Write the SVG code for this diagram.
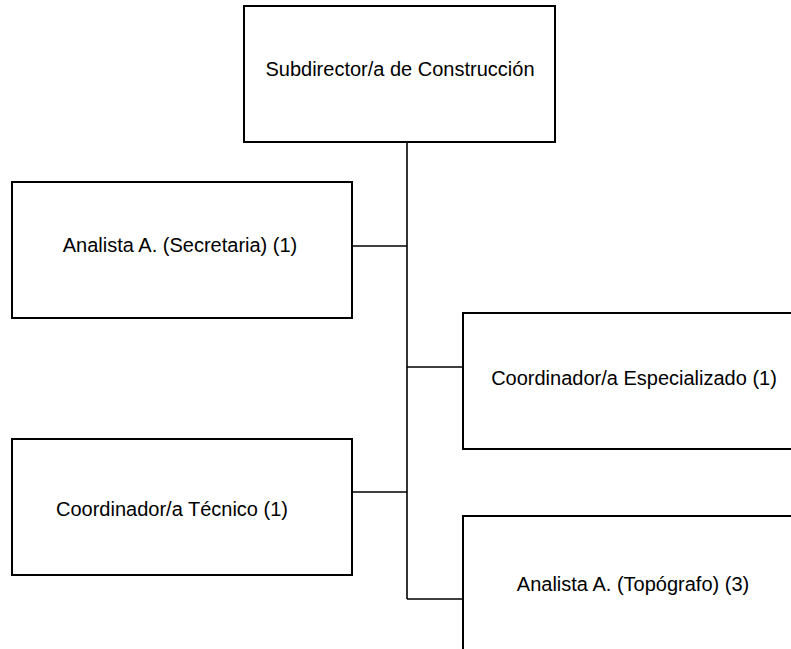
<svg xmlns="http://www.w3.org/2000/svg" width="791" height="649" viewBox="0 0 791 649">
<style>
.box{fill:#fff;stroke:#000;stroke-width:2}
.lbl{font-family:"Liberation Sans",Arial,sans-serif;font-size:20px;fill:#000;text-anchor:middle}
.conn{stroke:#000;stroke-width:1.6;fill:none}
</style>
<rect width="791" height="649" fill="#fff"/>
<g id="connectors">
<line class="conn" x1="407" y1="143" x2="407" y2="599"/>
<line class="conn" x1="352" y1="246" x2="407" y2="246"/>
<line class="conn" x1="407" y1="367" x2="463" y2="367"/>
<line class="conn" x1="352" y1="492" x2="407" y2="492"/>
<line class="conn" x1="407" y1="599" x2="463" y2="599"/>
</g>
<g id="subdirector">
<rect class="box" x="244" y="6" width="311" height="136"/>
<text class="lbl" x="400" y="76">Subdirector/a de Construcción</text>
</g>
<g id="secretaria">
<rect class="box" x="12" y="182" width="340" height="136"/>
<text class="lbl" x="180" y="252">Analista A. (Secretaria) (1)</text>
</g>
<g id="especializado">
<rect class="box" x="463" y="313" width="340" height="136"/>
<text class="lbl" x="634" y="385">Coordinador/a Especializado (1)</text>
</g>
<g id="tecnico">
<rect class="box" x="12" y="439" width="340" height="136"/>
<text class="lbl" x="172" y="516">Coordinador/a Técnico (1)</text>
</g>
<g id="topografo">
<rect class="box" x="463" y="516" width="340" height="200"/>
<text class="lbl" x="633" y="591">Analista A. (Topógrafo) (3)</text>
</g>
</svg>
